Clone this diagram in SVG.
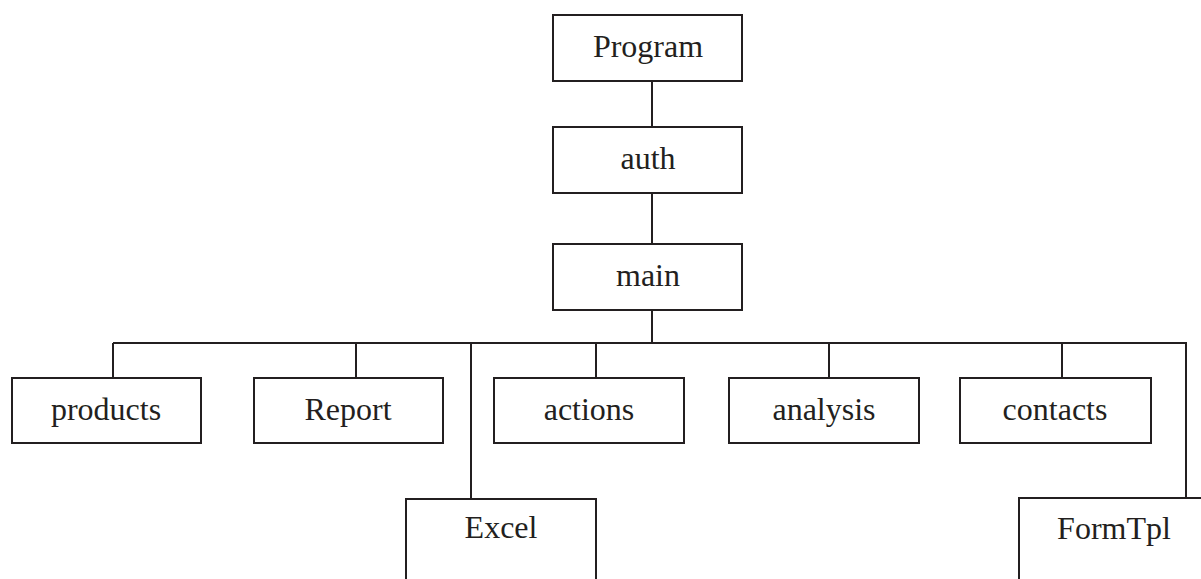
<svg xmlns="http://www.w3.org/2000/svg" width="1201" height="579" viewBox="0 0 1201 579">
<style>
.box{fill:#fff;stroke:#231f20;stroke-width:2}
.ln{fill:none;stroke:#231f20;stroke-width:2}
text{font-family:"Liberation Serif","Times New Roman",serif;font-size:32px;fill:#231f20;text-anchor:middle}
</style>
<rect width="1201" height="579" fill="#fff"/>
<g id="connectors">
<path class="ln" d="M652 81V127M652 193V244M652 310V343M113 343H1186V498M113 343V378M356 343V378M471 343V499M596 343V378M829 343V378M1062 343V378"/>
</g>
<g id="program"><rect class="box" x="553" y="15" width="189" height="66"/><text x="648" y="57">Program</text></g>
<g id="auth"><rect class="box" x="553" y="127" width="189" height="66"/><text x="648" y="169">auth</text></g>
<g id="main"><rect class="box" x="553" y="244" width="189" height="66"/><text x="648" y="286">main</text></g>
<g id="products"><rect class="box" x="12" y="378" width="189" height="65"/><text x="106" y="420">products</text></g>
<g id="report"><rect class="box" x="254" y="378" width="189" height="65"/><text x="348" y="420">Report</text></g>
<g id="actions"><rect class="box" x="494" y="378" width="190" height="65"/><text x="589" y="420">actions</text></g>
<g id="analysis"><rect class="box" x="729" y="378" width="190" height="65"/><text x="824" y="420">analysis</text></g>
<g id="contacts"><rect class="box" x="960" y="378" width="191" height="65"/><text x="1055" y="420">contacts</text></g>
<g id="excel"><rect class="box" x="406" y="499" width="190" height="100"/><text x="501" y="538">Excel</text></g>
<g id="formtpl"><rect class="box" x="1019" y="498" width="190" height="100"/><text x="1114" y="539">FormTpl</text></g>
</svg>
